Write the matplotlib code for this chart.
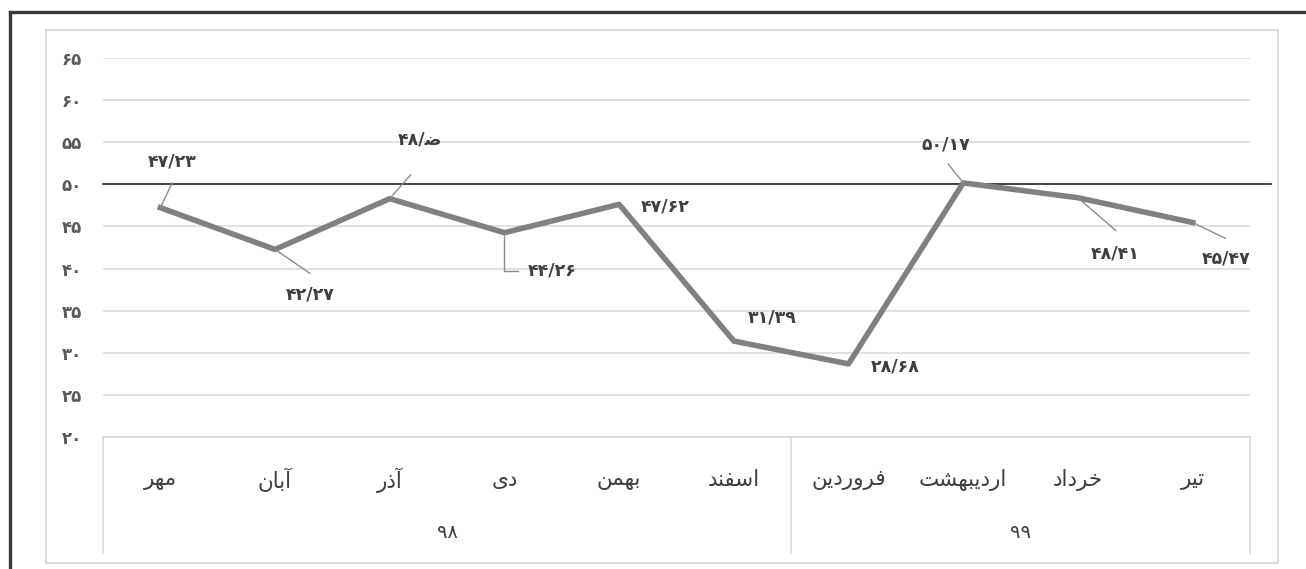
import matplotlib
matplotlib.use("Agg")
import matplotlib.pyplot as plt
from matplotlib.lines import Line2D
from matplotlib.patches import Rectangle

plt.rcParams["font.family"] = ["DejaVu Sans"]

# ── Data ─────────────────────────────────────────────────────────────────────
MONTHS = ["مهر", "آبان", "آذر", "دی", "بهمن", "اسفند",
          "فروردین", "اردیبهشت", "خرداد", "تیر"]
YEARS = ["۹۸", "۹۹"]
YEAR_SPAN = [6, 4]  # number of months under each year
VALUES = [47.23, 42.27, 48.30, 44.26, 47.62, 31.39, 28.68, 50.17, 48.41, 45.47]
VALUE_LABELS = ["۴۷/۲۳", "۴۲/۲۷", "۴۸/\ufebf", "۴۴/۲۶", "۴۷/۶۲",
                "۳۱/۳۹", "۲۸/۶۸", "۵۰/۱۷", "۴۸/۴۱", "۴۵/۴۷"]
Y_TICKS = [20, 25, 30, 35, 40, 45, 50, 55, 60, 65]
Y_TICK_LABELS = ["۲۰", "۲۵", "۳۰", "۳۵", "۴۰", "۴۵", "۵۰", "۵۵", "۶۰", "۶۵"]
REF_LINE = 50

# label placement: (dx, dy) of label centre in pixels, leader end or None
LABEL_LAYOUT = [
    ((12, 46), (12, 25)),
    ((35, -45), (35, -24)),
    ((30, 59), (21, 24)),
    ((48, -38), "elbow"),
    ((46, -2), None),
    ((38, 24), None),
    ((47, -3), None),
    ((-17, 38), (-15, 19)),
    ((37, -56), (38, -33)),
    ((34, -36), (33, -16)),
]

DARK = "#3f3f3f"
GRID = "#d9d9d9"

# ── Minimal Persian shaping (matplotlib has no complex text layout) ─────────
FORMS = {
    "ا": ("\ufe8d", "\ufe8e"), "آ": ("\ufe81", "\ufe82"),
    "د": ("\ufea9", "\ufeaa"), "ذ": ("\ufeab", "\ufeac"),
    "ر": ("\ufead", "\ufeae"), "و": ("\ufeed", "\ufeee"),
    "ب": ("\ufe8f", "\ufe90", "\ufe91", "\ufe92"),
    "ت": ("\ufe95", "\ufe96", "\ufe97", "\ufe98"),
    "خ": ("\ufea5", "\ufea6", "\ufea7", "\ufea8"),
    "س": ("\ufeb1", "\ufeb2", "\ufeb3", "\ufeb4"),
    "ش": ("\ufeb5", "\ufeb6", "\ufeb7", "\ufeb8"),
    "ف": ("\ufed1", "\ufed2", "\ufed3", "\ufed4"),
    "م": ("\ufee1", "\ufee2", "\ufee3", "\ufee4"),
    "ن": ("\ufee5", "\ufee6", "\ufee7", "\ufee8"),
    "ه": ("\ufee9", "\ufeea", "\ufeeb", "\ufeec"),
    "ی": ("\ufeef", "\ufef0", "\ufef3", "\ufef4"),
}


def shape(word):
    out = []
    for i, c in enumerate(word):
        f = FORMS.get(c)
        if f is None:
            out.append(c)
            continue
        prev = word[i - 1] if i > 0 else None
        nxt = word[i + 1] if i < len(word) - 1 else None
        joins_prev = prev in FORMS and len(FORMS[prev]) == 4
        joins_next = len(f) == 4 and nxt in FORMS
        if joins_prev and joins_next:
            out.append(f[3])
        elif joins_prev:
            out.append(f[1])
        elif joins_next:
            out.append(f[2])
        else:
            out.append(f[0])
    return "".join(reversed(out))


# ── Figure ───────────────────────────────────────────────────────────────────
W, H = 1306, 569
fig = plt.figure(figsize=(W / 100, H / 100), dpi=100)


def fx(px):
    return px / W


def fy(py):
    return 1 - py / H


# outer dark frame (continues past the right/bottom edges) and inner grey frame
fig.add_artist(Line2D([fx(10), fx(W + 10)], [fy(12), fy(12)],
                      transform=fig.transFigure, color="#3a3a3a", lw=2.4))
fig.add_artist(Line2D([fx(10), fx(10)], [fy(12), fy(H + 10)],
                      transform=fig.transFigure, color="#3a3a3a", lw=2.4))
fig.add_artist(Rectangle((fx(46), fy(563)), fx(1278) - fx(46), fy(30) - fy(563),
                         transform=fig.transFigure, fill=False,
                         edgecolor="#d4d4d4", lw=1.2))

ax = fig.add_axes([fx(103), fy(437), fx(1250) - fx(103), fy(58) - fy(437)])
xs = list(range(len(MONTHS)))

ax.set_xlim(-0.5, len(MONTHS) - 0.5)
ax.set_ylim(Y_TICKS[0], Y_TICKS[-1])
ax.set_yticks(Y_TICKS, Y_TICK_LABELS)
ax.set_xticks([])
ax.tick_params(axis="y", length=0, pad=15, labelsize=12, labelcolor="#595959")
for lbl in ax.get_yticklabels():
    lbl.set_fontweight("bold")
ax.yaxis.grid(True, color=GRID, lw=1.1)
ax.set_axisbelow(True)
for side in ["top", "right", "left"]:
    ax.spines[side].set_visible(False)
ax.spines["bottom"].set_color(GRID)
ax.spines["bottom"].set_linewidth(1.1)

# reference line at 50 (runs a bit past the plot area)
ax.axhline(REF_LINE, xmin=0, xmax=(1271 - 103) / (1250 - 103),
           color="#262626", lw=1.2, clip_on=False, zorder=2)

ax.plot(xs, VALUES, color="#808080", lw=4, zorder=3)

for i, (v, txt) in enumerate(zip(VALUES, VALUE_LABELS)):
    (dx, dy), lead = LABEL_LAYOUT[i]
    ax.annotate(txt, xy=(i, v), xytext=(dx, dy), textcoords="offset pixels",
                ha="center", va="center", fontsize=12.5, fontweight="bold",
                color=DARK, zorder=4)
    if lead == "elbow":
        ax.annotate("", xy=(i, v), xytext=(14, dy), textcoords="offset pixels",
                    arrowprops=dict(arrowstyle="-", color="#8c8c8c", lw=1,
                                    shrinkA=0, shrinkB=0,
                                    connectionstyle="angle,angleA=0,angleB=90,rad=0"))
    elif lead is not None:
        ax.annotate("", xy=(i, v), xytext=lead, textcoords="offset pixels",
                    arrowprops=dict(arrowstyle="-", color="#8c8c8c", lw=1,
                                    shrinkA=0, shrinkB=0))

# category table under the axis
tr = ax.get_xaxis_transform()
table_bottom = (437 - 553) / (437 - 58)
month_y = (437 - 480) / (437 - 58)
year_y = (437 - 533) / (437 - 58)

for i, m in enumerate(MONTHS):
    ax.text(i, month_y, shape(m), transform=tr, ha="center", va="center",
            fontsize=15.5, color=DARK)

start = 0
edges = [-0.5]
for yr, span in zip(YEARS, YEAR_SPAN):
    ax.text(start + (span - 1) / 2, year_y, yr, transform=tr, ha="center",
            va="center", fontsize=14, color=DARK)
    start += span
    edges.append(start - 0.5)
for e in edges:
    ax.plot([e, e], [0, table_bottom], transform=tr, color=GRID, lw=1.2,
            clip_on=False)

fig.savefig("out.png", dpi=100)
